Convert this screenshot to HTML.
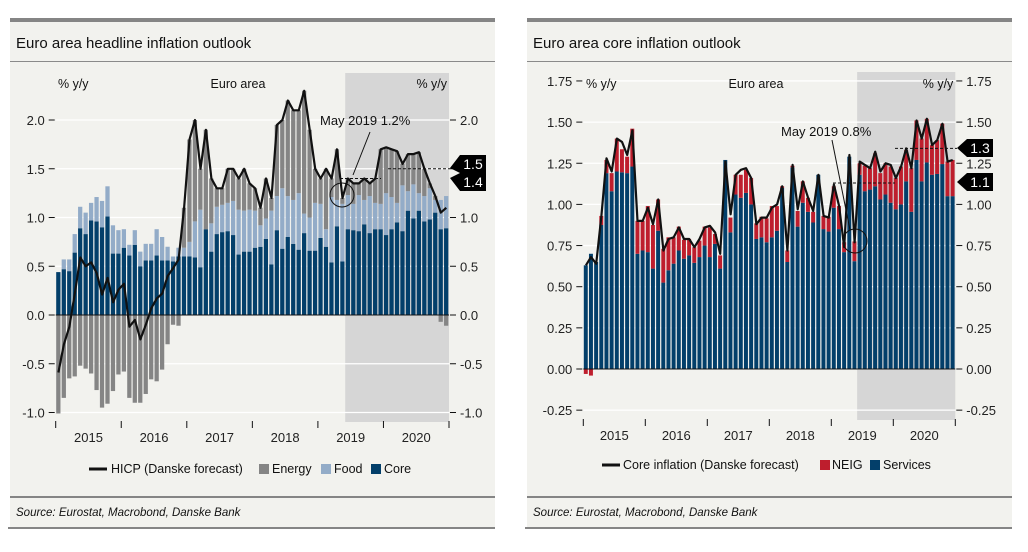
<!DOCTYPE html>
<html><head><meta charset="utf-8">
<style>
html,body{margin:0;padding:0;background:#fff;}
body{width:1028px;height:547px;overflow:hidden;font-family:"Liberation Sans",sans-serif;}
svg text{font-family:"Liberation Sans",sans-serif;}
</style></head>
<body>
<svg id="chart" width="1028" height="547" viewBox="0 0 1028 547" xmlns="http://www.w3.org/2000/svg">
<g id="left"></g>
<g id="right"></g>
</svg>
<script>
// ---- Left chart data (Jan 2015 - Dec 2020) ----
const years = ["2015","2016","2017","2018","2019","2020"];
const leftTicks = [-1.0,-0.5,0.0,0.5,1.0,1.5,2.0];
const coreL = [0.44,0.47,0.45,0.64,0.89,0.83,0.97,0.96,0.90,1.01,0.63,0.63,
 0.69,0.61,0.72,0.50,0.56,0.56,0.61,0.56,0.56,0.55,0.60,0.60,
 0.60,0.59,0.49,0.88,0.65,0.83,0.85,0.86,0.82,0.62,0.65,0.65,
 0.69,0.70,0.78,0.52,0.87,0.68,0.80,0.73,0.67,0.84,0.66,0.66,
 0.79,0.70,0.54,0.91,0.55,0.88,0.87,0.86,0.93,0.84,0.88,0.88,
 0.82,0.88,0.95,0.86,1.07,0.99,1.07,0.96,0.98,1.05,0.88,0.89];
const foodL = [0.00,0.10,0.12,0.19,0.22,0.22,0.18,0.25,0.27,0.31,0.29,0.24,
 0.19,0.11,0.15,0.15,0.17,0.17,0.27,0.24,0.14,0.05,0.09,0.09,
 0.15,0.37,0.59,0.00,0.29,0.28,0.28,0.29,0.35,0.46,0.42,0.43,
 0.38,0.22,0.21,0.55,0.35,0.62,0.42,0.45,0.58,0.20,0.34,0.49,
 0.35,0.18,0.67,0.27,0.59,0.35,0.27,0.37,0.25,0.38,0.27,0.26,
 0.43,0.33,0.20,0.47,0.20,0.35,0.18,0.26,0.32,0.13,0.30,0.33];
const energyL = [-1.01,-0.85,-0.65,-0.63,-0.52,-0.55,-0.60,-0.77,-0.95,-0.91,-0.78,-0.61,
 -0.58,-0.85,-0.90,-0.90,-0.81,-0.66,-0.68,-0.56,-0.30,-0.10,-0.11,0.41,
 1.05,1.04,0.42,1.02,0.46,0.19,0.17,0.35,0.33,0.32,0.43,0.27,
 0.23,0.18,0.41,0.13,0.73,0.70,0.98,0.92,0.85,1.26,0.90,0.35,
 0.26,0.62,0.19,0.52,0.06,0.17,0.21,0.12,0.22,0.13,0.25,0.56,
 0.47,0.49,0.53,0.22,0.38,0.31,0.42,0.28,0.05,0.04,-0.07,-0.11];
const hicp = [-0.59,-0.30,-0.12,0.22,0.59,0.50,0.54,0.43,0.21,0.38,0.13,0.26,
 0.32,-0.12,-0.05,-0.25,-0.10,0.07,0.17,0.22,0.40,0.48,0.57,1.10,
 1.80,2.00,1.50,1.90,1.40,1.30,1.30,1.50,1.50,1.40,1.50,1.35,
 1.30,1.10,1.40,1.20,1.95,2.00,2.20,2.10,2.10,2.30,1.90,1.50,
 1.40,1.50,1.40,1.70,1.20,1.40,1.35,1.35,1.40,1.35,1.40,1.70,
 1.72,1.70,1.68,1.55,1.65,1.65,1.67,1.50,1.35,1.22,1.05,1.10];
// ---- Right chart data ----
const rightTicks = [-0.25,0.00,0.25,0.50,0.75,1.00,1.25,1.50,1.75];
const services = [0.63,0.70,0.65,0.875,1.19,1.08,1.20,1.195,1.19,1.23,0.70,0.72,
 0.71,0.61,0.84,0.525,0.60,0.64,0.72,0.67,0.69,0.645,0.68,0.75,
 0.68,0.76,0.61,1.27,0.83,1.06,1.04,1.07,1.00,0.79,0.80,0.77,
 0.80,0.84,1.10,0.65,1.225,0.865,1.01,0.955,0.89,1.18,0.85,0.835,
 0.98,0.85,0.71,1.29,0.655,1.18,1.08,1.09,1.11,1.03,1.06,1.01,
 0.97,1.00,1.14,0.955,1.27,1.14,1.255,1.18,1.185,1.245,1.05,1.05];
const neig = [-0.03,-0.04,0.00,0.055,0.08,0.11,0.20,0.14,0.10,0.23,0.20,0.18,
 0.28,0.265,0.19,0.205,0.20,0.16,0.145,0.115,0.10,0.095,0.10,0.115,
 0.18,0.06,0.08,0.00,0.09,0.12,0.14,0.14,0.16,0.095,0.125,0.145,
 0.19,0.15,0.01,0.07,0.01,0.095,0.13,0.085,0.065,0.00,0.08,0.09,
 0.13,0.14,0.06,0.00,0.12,0.07,0.155,0.13,0.20,0.16,0.19,0.22,
 0.19,0.23,0.19,0.265,0.24,0.26,0.265,0.18,0.205,0.245,0.21,0.22];
const coreLine = [0.63,0.68,0.64,0.93,1.28,1.20,1.40,1.38,1.30,1.45,0.90,0.90,
 0.98,0.88,1.03,0.72,0.79,0.80,0.86,0.79,0.79,0.74,0.79,0.86,
 0.87,0.83,0.70,1.26,0.94,1.18,1.21,1.22,1.16,0.88,0.92,0.92,
 0.98,1.00,1.11,0.72,1.24,0.97,1.14,1.04,0.96,1.18,0.93,0.92,
 1.12,0.99,0.74,1.30,0.77,1.26,1.24,1.22,1.32,1.20,1.25,1.24,
 1.16,1.23,1.34,1.22,1.51,1.40,1.52,1.36,1.39,1.49,1.26,1.27];

const NS="http://www.w3.org/2000/svg";
function mk(parent,tag,attrs,text){const e=document.createElementNS(NS,tag);for(const k in attrs)e.setAttribute(k,attrs[k]);if(text!==undefined)e.textContent=text;parent.appendChild(e);return e;}

function panel(g,cfg){
  // frame
  let e;
  e=mk(g,'rect',{x:cfg.px,y:20,width:cfg.pw,height:508,fill:'#f2f2ee'});
  
  
  mk(g,'rect',{x:cfg.px,y:18,width:cfg.pw,height:4,fill:'#858585'});
  e=mk(g,'text',{x:cfg.px+6,y:48,'font-size':15,fill:'#111'},cfg.title);
  
  
  mk(g,'rect',{x:cfg.px,y:61,width:cfg.pw,height:1,fill:'#8a8a8a'});
  mk(g,'rect',{x:cfg.px,y:496,width:cfg.pw,height:2,fill:'#858585'});
  mk(g,'rect',{x:cfg.px-2,y:527,width:cfg.pw+2,height:2,fill:'#858585'});
  e=mk(g,'text',{x:cfg.px+6,y:516,'font-size':11.5,'font-style':'italic',fill:'#111'},'Source: Eurostat, Macrobond, Danske Bank');
  
  
  const X0=cfg.x0,X1=cfg.x1,n=72,bw=(X1-X0)/n;
  const yS=v=>cfg.zeroY-v*cfg.unit;
  const xS=i=>X0+i*bw;
  // shade
  e=mk(g,'rect',{x:xS(53),y:cfg.shTop,width:X1-xS(53),height:cfg.shBot-cfg.shTop,fill:'#d6d6d6'});
  
  
  // grid & ticks
  cfg.ticks.forEach(t=>{
    const y=yS(t);
    mk(g,'line',{x1:X0,x2:X1,y1:y,y2:y,stroke:'#fff','stroke-width':1.3});
    mk(g,'line',{x1:X0-7,x2:X0-1,y1:y,y2:y,stroke:'#111','stroke-width':1});
    mk(g,'line',{x1:X1+1,x2:X1+7,y1:y,y2:y,stroke:'#111','stroke-width':1});
    const lab=t.toFixed(cfg.dec);
    let a=mk(g,'text',{x:X0-11,y:y+5,'font-size':13,'text-anchor':'end',fill:'#222'},lab);
    
    
    a=mk(g,'text',{x:X1+11,y:y+5,'font-size':13,fill:'#222'},lab);
    
    
  });
  // bars
  for(let i=0;i<n;i++){
    let pos=0,neg=0;
    cfg.series.forEach(s=>{
      const v=s.data[i];
      let y0,y1;
      if(v>=0){y0=pos;y1=pos+v;pos=y1;}else{y0=neg;y1=neg+v;neg=y1;}
      const b=mk(g,'rect',{x:xS(i)+0.5,y:Math.min(yS(y0),yS(y1)),width:bw-1.2,height:Math.abs(yS(y1)-yS(y0)),fill:s.color});
      
      
    });
  }
  // zero line
  mk(g,'line',{x1:X0,x2:X1,y1:cfg.zeroY,y2:cfg.zeroY,stroke:'#111','stroke-width':1});
  // x axis ticks and years
  for(let k=0;k<=6;k++){
    const x=xS(k*12);
    mk(g,'line',{x1:x,x2:x,y1:cfg.xAxisY,y2:cfg.xAxisY+7,stroke:'#111','stroke-width':1});
    if(k<6){const t=mk(g,'text',{x:xS(k*12+6),y:cfg.xAxisY+21,'font-size':13,'text-anchor':'middle',fill:'#222'},years[k]);
      
      }
  }
  // line
  const pts=cfg.line.map((v,i)=>(xS(i)+bw/2).toFixed(1)+','+yS(v).toFixed(1)).join(' ');
  e=mk(g,'polyline',{points:pts,fill:'none',stroke:'#111','stroke-width':2.2,'stroke-linejoin':'round'});
  
  
  // headers
  e=mk(g,'text',{x:cfg.hdrL,y:88,'font-size':12.5,fill:'#111'},'% y/y');
  
  e=mk(g,'text',{x:cfg.hdrC,y:88,'font-size':12.5,'text-anchor':'middle',fill:'#111'},'Euro area');
  
  e=mk(g,'text',{x:X1-2,y:88,'font-size':12.5,'text-anchor':'end',fill:'#111'},'% y/y');
  
  return {xS,yS,bw};
}

const L=panel(document.getElementById('left'),{px:10,pw:485,title:'Euro area headline inflation outlook',
  x0:55.7,x1:449,zeroY:315,unit:97.5,shTop:73,shBot:422,xAxisY:421,ticks:leftTicks,dec:1,hdrL:58,hdrC:238,
  series:[{name:'core',data:coreL,color:'#033f6a'},{name:'food',data:foodL,color:'#93acc8'},{name:'energy',data:energyL,color:'#858585'}],
  line:hicp});
const R=panel(document.getElementById('right'),{px:527,pw:485,title:'Euro area core inflation outlook',
  x0:583.3,x1:955.3,zeroY:369,unit:164.6,shTop:72,shBot:420,xAxisY:419,ticks:rightTicks,dec:2,hdrL:586,hdrC:756,
  series:[{name:'services',data:services,color:'#033f6a'},{name:'neig',data:neig,color:'#be1e2d'}],
  line:coreLine});

function callout(g,tipX,tipY,boxY,label,name){
  const b=mk(g,'polygon',{points:`${tipX},${tipY} ${tipX+10},${boxY} ${tipX+36},${boxY} ${tipX+36},${boxY+18} ${tipX+10},${boxY+18}`,fill:'#000'});
  
  
  const t=mk(g,'text',{x:tipX+23,y:boxY+14,'font-size':14,'text-anchor':'middle',fill:'#fff'},label);
  
  
}
const gl=document.getElementById('left'), gr=document.getElementById('right');
// left annotations
mk(gl,'line',{x1:340,x2:381,y1:L.yS(1.4),y2:L.yS(1.4),stroke:'#111','stroke-dasharray':'3,2'});
mk(gl,'line',{x1:388,x2:450,y1:L.yS(1.5),y2:L.yS(1.5),stroke:'#111','stroke-dasharray':'3,2'});
callout(gl,450,168,155,'1.5','forecast-2019-callout');
callout(gl,450,178,173,'1.4','forecast-2020-callout');
let c=mk(gl,'circle',{cx:342,cy:195,r:12,fill:'none',stroke:'#111','stroke-width':1});

mk(gl,'line',{x1:353,y1:175,x2:370,y2:132,stroke:'#111','stroke-width':1});
let t=mk(gl,'text',{x:320,y:125,'font-size':13,fill:'#111'},'May 2019 1.2%');

// legend left
mk(gl,'line',{x1:89,x2:107,y1:469,y2:469,stroke:'#111','stroke-width':3});
mk(gl,'text',{x:111,y:473,'font-size':12.5,fill:'#111'},'HICP (Danske forecast)');
mk(gl,'rect',{x:259,y:464,width:10,height:10,fill:'#858585'});
mk(gl,'text',{x:272,y:473,'font-size':12.5,fill:'#111'},'Energy');
mk(gl,'rect',{x:321,y:464,width:10,height:10,fill:'#93acc8'});
mk(gl,'text',{x:334,y:473,'font-size':12.5,fill:'#111'},'Food');
mk(gl,'rect',{x:371,y:464,width:10,height:10,fill:'#033f6a'});
mk(gl,'text',{x:384,y:473,'font-size':12.5,fill:'#111'},'Core');
// right annotations
mk(gr,'line',{x1:833,x2:895,y1:R.yS(1.13),y2:R.yS(1.13),stroke:'#111','stroke-dasharray':'3,2'});
mk(gr,'line',{x1:895,x2:957,y1:R.yS(1.34),y2:R.yS(1.34),stroke:'#111','stroke-dasharray':'3,2'});
callout(gr,957,148,139,'1.3','core-2019-callout');
callout(gr,957,182,173,'1.1','core-2020-callout');
c=mk(gr,'circle',{cx:855,cy:241,r:12,fill:'none',stroke:'#111','stroke-width':1});

mk(gr,'line',{x1:832,y1:140,x2:850,y2:230,stroke:'#111','stroke-width':1});
t=mk(gr,'text',{x:781,y:136,'font-size':13,fill:'#111'},'May 2019 0.8%');

// legend right
mk(gr,'line',{x1:602,x2:620,y1:465,y2:465,stroke:'#111','stroke-width':3});
mk(gr,'text',{x:623,y:469,'font-size':12.5,fill:'#111'},'Core inflation (Danske forecast)');
mk(gr,'rect',{x:820,y:460,width:10,height:10,fill:'#be1e2d'});
mk(gr,'text',{x:832,y:469,'font-size':12.5,fill:'#111'},'NEIG');
mk(gr,'rect',{x:870,y:460,width:10,height:10,fill:'#033f6a'});
mk(gr,'text',{x:883,y:469,'font-size':12.5,fill:'#111'},'Services');
</script>
</body></html>
